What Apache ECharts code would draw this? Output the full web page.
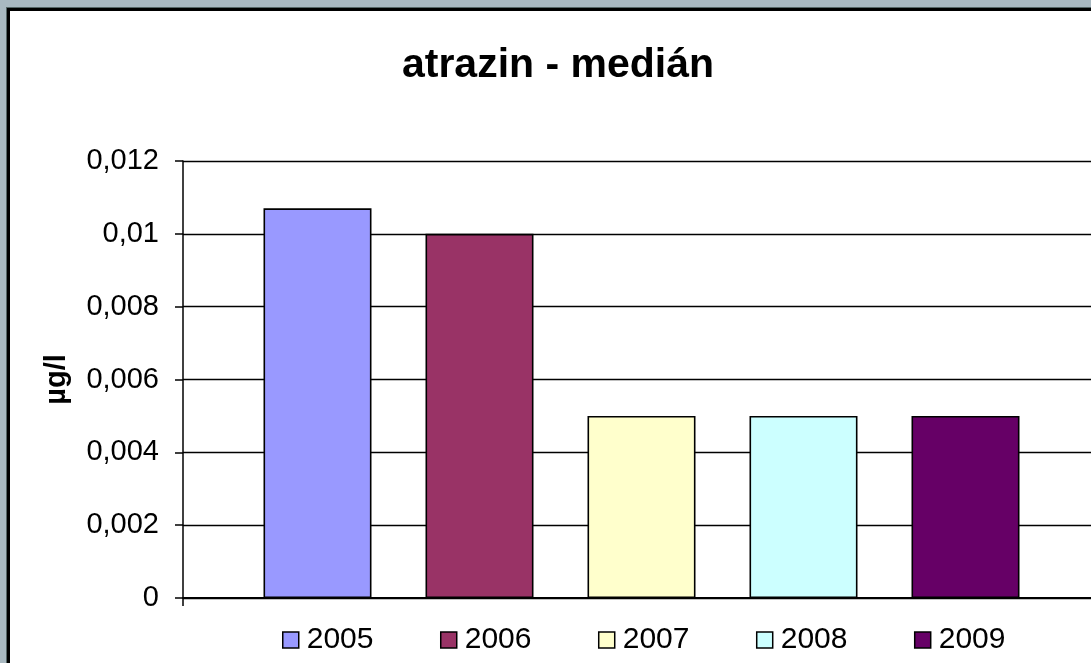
<!DOCTYPE html>
<html>
<head>
<meta charset="utf-8">
<script src="https://cdn.jsdelivr.net/npm/echarts@6/dist/echarts.min.js"></script>
<style>
  html, body { margin: 0; padding: 0; width: 1091px; height: 663px; overflow: hidden; background: #A9B9C1; }
  #panel { position: absolute; left: 7px; top: 8px; width: 1120px; height: 720px; background: #fff; border: 3px solid #000; box-shadow: -1px -1px 0 #566; }
  #chart { position: absolute; left: 0; top: 0; width: 1091px; height: 663px; }
</style>
</head>
<body>
<div id="panel"></div>
<div id="chart"></div>
<script>
const titleText = 'atrazin - medián';
const yAxisName = 'µg/l';
const categories = [''];
const seriesNames = ['2005', '2006', '2007', '2008', '2009'];
const seriesValues = [0.0107, 0.01, 0.005, 0.005, 0.005];
const seriesColors = ['#9999FF', '#993366', '#FFFFCC', '#CCFFFF', '#660066'];
const yMin = 0, yMax = 0.012, yStep = 0.002;

const FONT = '"Liberation Sans", Arial, sans-serif';
const chart = echarts.init(document.getElementById('chart'), null, { renderer: 'canvas' });

const series = seriesNames.map((name, i) => ({
  name: name,
  type: 'bar',
  data: [seriesValues[i]],
  barWidth: 108,
  barGap: '50%',
  itemStyle: { color: seriesColors[i], borderColor: '#000', borderWidth: 1.6 },
  emphasis: { disabled: true },
  animation: false
}));

chart.setOption({
  backgroundColor: 'transparent',
  animation: false,
  title: {
    text: titleText,
    left: 553, top: 40, textAlign: 'center',
    textStyle: { fontFamily: FONT, fontWeight: 'bold', fontSize: 41, color: '#000' }
  },
  legend: {
    data: seriesNames,
    left: 277, top: 620,
    itemWidth: 16, itemHeight: 16, itemGap: 66.5,
    icon: 'rect',
    textStyle: { fontFamily: FONT, fontSize: 30, color: '#000', padding: [0, 0, 0, 3] },
    itemStyle: { borderColor: '#000', borderWidth: 1.5 },
    selectedMode: false
  },
  grid: { left: 183, top: 161, bottom: 65, width: 917, containLabel: false, outerBoundsMode: 'none' },
  xAxis: {
    type: 'category',
    data: categories,
    axisLine: { lineStyle: { color: '#000', width: 2 } },
    axisTick: { show: true, length: 8, lineStyle: { color: '#000', width: 1.5 } },
    axisLabel: { show: false },
    splitLine: { show: false }
  },
  yAxis: {
    type: 'value',
    min: yMin, max: yMax, interval: yStep,
    name: yAxisName,
    nameLocation: 'middle',
    nameGap: 112,
    nameRotate: 90,
    nameTextStyle: { fontFamily: FONT, fontWeight: 'bold', fontSize: 29, color: '#000' },
    axisLine: { show: true, lineStyle: { color: '#000', width: 1.5 } },
    axisTick: { show: true, length: 8, lineStyle: { color: '#000', width: 1.5 } },
    axisLabel: {
      margin: 24,
      fontFamily: FONT, fontSize: 29, color: '#000',
      formatter: v => String(+v.toFixed(6)).replace('.', ',')
    },
    splitLine: { show: true, lineStyle: { color: '#000', width: 1.4 } }
  },
  series: series
});
</script>
</body>
</html>
